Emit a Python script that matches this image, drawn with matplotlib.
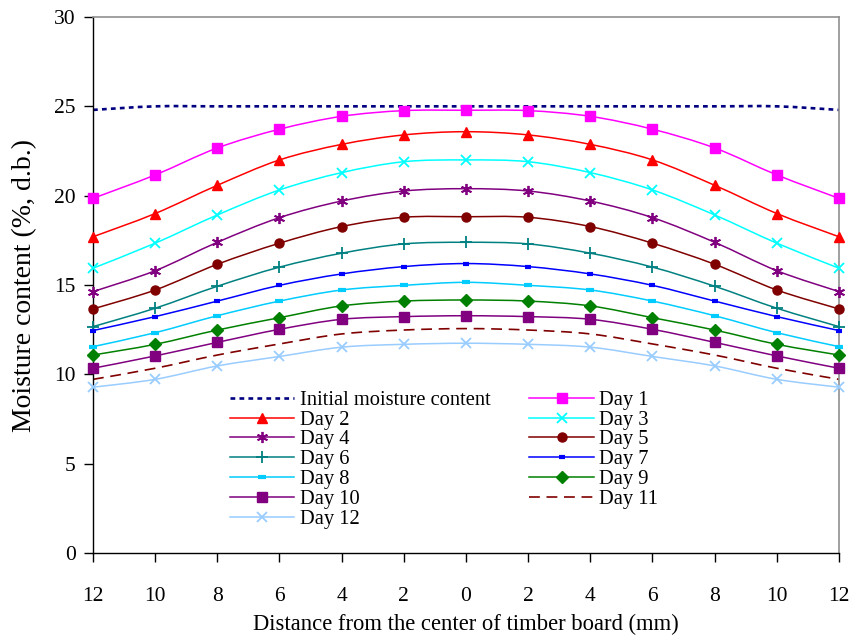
import matplotlib
matplotlib.use("Agg")
import matplotlib.pyplot as plt
from matplotlib.path import Path
from matplotlib.patches import PathPatch
from matplotlib.lines import Line2D

plt.rcParams['font.family'] = ['Liberation Serif', 'DejaVu Serif']

# ---- data ----
x_pos = list(range(13))
x_labels = ["12", "10", "8", "6", "4", "2", "0", "2", "4", "6", "8", "10", "12"]

initial = [24.8, 25.0, 25.0, 25.0, 25.0, 25.0, 25.0, 25.0, 25.0, 25.0, 25.0, 25.0, 24.8]
day1 = [19.85, 21.16, 22.67, 23.72, 24.44, 24.76, 24.78, 24.76, 24.44, 23.72, 22.67, 21.16, 19.85]
day2 = [17.7, 19.0, 20.58, 22.0, 22.87, 23.4, 23.58, 23.4, 22.87, 22.0, 20.58, 19.0, 17.7]
day3 = [15.94, 17.34, 18.92, 20.32, 21.29, 21.9, 22.0, 21.9, 21.29, 20.32, 18.92, 17.34, 15.94]
day4 = [14.63, 15.8, 17.39, 18.77, 19.7, 20.26, 20.39, 20.26, 19.7, 18.77, 17.39, 15.8, 14.63]
day5 = [13.66, 14.72, 16.16, 17.34, 18.27, 18.79, 18.82, 18.79, 18.27, 17.34, 16.16, 14.72, 13.66]
day6 = [12.67, 13.7, 14.93, 16.0, 16.78, 17.3, 17.39, 17.3, 16.78, 16.0, 14.93, 13.7, 12.67]
day7 = [12.45, 13.23, 14.1, 14.98, 15.62, 16.03, 16.2, 16.03, 15.62, 14.98, 14.1, 13.23, 12.45]
day8 = [11.55, 12.33, 13.28, 14.1, 14.72, 14.98, 15.15, 14.98, 14.72, 14.1, 13.28, 12.33, 11.55]
day9 = [11.08, 11.68, 12.48, 13.17, 13.83, 14.1, 14.16, 14.1, 13.83, 13.17, 12.48, 11.68, 11.08]
day10 = [10.34, 11.03, 11.79, 12.52, 13.08, 13.23, 13.28, 13.23, 13.08, 12.52, 11.79, 11.03, 10.34]
day11 = [9.72, 10.34, 11.08, 11.7, 12.26, 12.48, 12.56, 12.48, 12.26, 11.7, 11.08, 10.34, 9.72]
day12 = [9.28, 9.72, 10.47, 11.0, 11.52, 11.68, 11.74, 11.68, 11.52, 11.0, 10.47, 9.72, 9.28]

labels = ["Initial moisture content", "Day 1", "Day 2", "Day 3", "Day 4", "Day 5",
          "Day 6", "Day 7", "Day 8", "Day 9", "Day 10", "Day 11", "Day 12"]
series = [initial, day1, day2, day3, day4, day5, day6, day7, day8, day9, day10, day11, day12]

# ---- styles ----
styles = [
    dict(color="#000080", ls=(0, (1.8, 1.6)), lw=1.9, marker=None, ms=0, mew=1),
    dict(color="#FF00FF", ls="-", lw=1.1, marker="s", ms=6.5, mew=1),
    dict(color="#FF0000", ls="-", lw=1.1, marker="^", ms=7.5, mew=1),
    dict(color="#00FFFF", ls="-", lw=1.1, marker="x", ms=7.5, mew=1.3),
    dict(color="#800080", ls="-", lw=1.1, marker=(6, 2, 0), ms=8, mew=1.3),
    dict(color="#800000", ls="-", lw=1.1, marker="o", ms=6.5, mew=1),
    dict(color="#008080", ls="-", lw=1.1, marker="+", ms=8, mew=1.3),
    dict(color="#0000FF", ls="-", lw=1.1, marker="_", ms=4.5, mew=3),
    dict(color="#00CCFF", ls="-", lw=1.1, marker="_", ms=6, mew=3),
    dict(color="#008000", ls="-", lw=1.1, marker="D", ms=6, mew=1),
    dict(color="#800080", ls="-", lw=1.1, marker="s", ms=6.5, mew=1),
    dict(color="#800000", ls=(0, (6.5, 4)), lw=1.2, marker=None, ms=0, mew=1),
    dict(color="#99CCFF", ls="-", lw=1.1, marker="x", ms=7.5, mew=1.3),
]


def smooth_path(xs, ys):
    n = len(xs)
    verts = [(xs[0], ys[0])]
    codes = [Path.MOVETO]
    for i in range(n - 1):
        i0 = max(i - 1, 0)
        i3 = min(i + 2, n - 1)
        c1 = (xs[i] + (xs[i + 1] - xs[i0]) / 6.0, ys[i] + (ys[i + 1] - ys[i0]) / 6.0)
        c2 = (xs[i + 1] - (xs[i3] - xs[i]) / 6.0, ys[i + 1] - (ys[i3] - ys[i]) / 6.0)
        verts += [c1, c2, (xs[i + 1], ys[i + 1])]
        codes += [Path.CURVE4] * 3
    return Path(verts, codes)


fig = plt.figure(figsize=(8.54, 6.39), dpi=100)
ax = fig.add_axes([93 / 854, 1 - 553 / 639, (839 - 93) / 854, (553 - 17) / 639])

handles = []
for ys, st, lab in zip(series, styles, labels):
    patch = PathPatch(smooth_path(x_pos, ys), fill=False, edgecolor=st["color"],
                      lw=st["lw"], linestyle=st["ls"], zorder=2)
    ax.add_patch(patch)
    if st["marker"] is not None:
        ax.plot(x_pos, ys, linestyle="none", marker=st["marker"], ms=st["ms"],
                mfc=st["color"], mec=st["color"], mew=st["mew"], zorder=3, clip_on=False)
    handles.append(Line2D([], [], color=st["color"], lw=st["lw"], linestyle=st["ls"],
                          marker=st["marker"], ms=st["ms"], mfc=st["color"],
                          mec=st["color"], mew=st["mew"]))

ax.set_xlim(0, 12)
ax.set_ylim(0, 30)
ax.set_xticks(x_pos)
ax.set_xticklabels(x_labels)
ax.set_yticks([0, 5, 10, 15, 20, 25, 30])
ax.tick_params(axis="both", direction="out", length=6.5, width=1, labelsize=15.5, color="black")
ax.tick_params(axis="x", pad=18)
ax.tick_params(axis="y", pad=6)

for side in ["top", "right"]:
    ax.spines[side].set_color("#909090")
    ax.spines[side].set_linewidth(1.2)
for side in ["left", "bottom"]:
    ax.spines[side].set_color("black")
    ax.spines[side].set_linewidth(1.0)

ax.set_ylabel("Moisture content (%, d.b.)", fontsize=20, labelpad=12)
ax.set_xlabel("Distance from the center of timber board (mm)", fontsize=16.3, labelpad=6)

# legend: row-wise order in reference -> reorder for column-wise filling
col1 = [0, 2, 4, 6, 8, 10, 12]
col2 = [1, 3, 5, 7, 9, 11]
order = col1 + col2
leg = ax.legend([handles[i] for i in order], [labels[i] for i in order], ncol=2,
                loc="upper left", bbox_to_anchor=(0.164, 0.33), frameon=False,
                fontsize=14.8, handlelength=3.15, handletextpad=0.25,
                columnspacing=1.9, labelspacing=0.02, borderpad=0.2)

fig.savefig("out.png", dpi=100)
